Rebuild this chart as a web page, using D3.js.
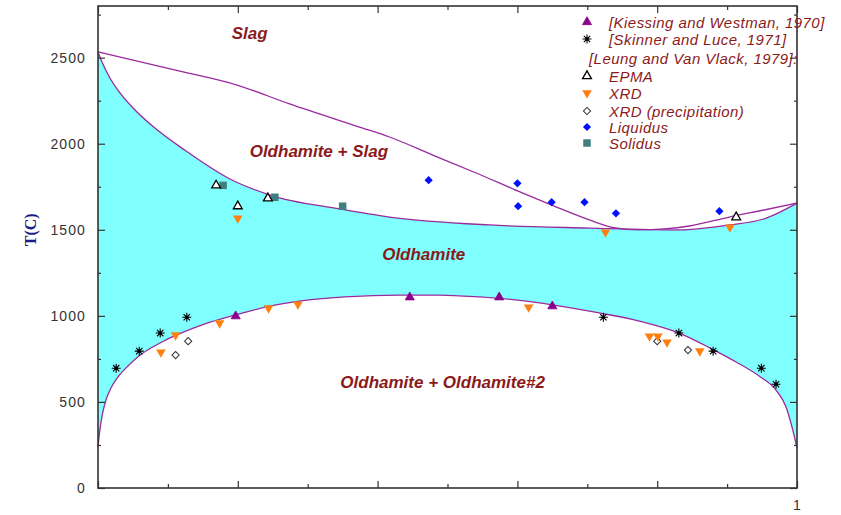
<!DOCTYPE html>
<html>
<head>
<meta charset="utf-8">
<script src="https://cdn.jsdelivr.net/npm/d3@7"></script>
<style>
  html, body { margin: 0; padding: 0; background: #ffffff; }
  svg { display: block; }
</style>
</head>
<body>
<svg id="chart" width="841" height="515"></svg>
<script>
// Phase boundaries (x = mole fraction, T in °C)
const liquidusLine = [[0,2533],[0.117,2422],[0.199,2341],[0.274,2231],[0.374,2097],[0.417,2039],[0.479,1934],[0.541,1830],[0.607,1714],[0.656,1632],[0.703,1557],[0.734,1516],[0.774,1499],[0.81,1505],[0.846,1522],[0.903,1574],[0.953,1615],[1,1655]];
const solidusLine = [[0,2533],[0.0057,2475],[0.0171,2382],[0.0314,2295],[0.0529,2196],[0.0814,2091],[0.124,1963],[0.186,1801],[0.246,1702],[0.346,1621],[0.417,1574],[0.56,1528],[0.703,1510],[0.831,1499],[0.903,1528],[0.956,1568],[1,1655]];
const solvusLine = [[0,238],[0.0029,343],[0.0064,430],[0.0114,511],[0.0186,581],[0.0286,645],[0.0429,709],[0.0586,767],[0.0757,813],[0.0943,854],[0.1129,889],[0.1529,953],[0.1971,1005],[0.2457,1057],[0.2886,1086],[0.3529,1110],[0.4314,1121],[0.4886,1121],[0.5457,1110],[0.6129,1086],[0.67,1051],[0.7171,1017],[0.7743,970],[0.8314,900],[0.8786,807],[0.9129,732],[0.9457,651],[0.97,569],[0.9843,471],[0.9929,354],[1,232]];

// Experimental data
const kiessing = [[0.197,998],[0.446,1108],[0.574,1108],[0.65,1056]];
const skinner = [[0.026,696],[0.059,795],[0.089,900],[0.127,992],[0.723,992],[0.831,900],[0.88,795],[0.949,696],[0.97,603]];
const epma = [[0.169,1758],[0.2,1637],[0.243,1683],[0.913,1573]];
const xrd = [[0.2,1567],[0.09,789],[0.111,888],[0.174,958],[0.244,1045],[0.286,1068],[0.616,1050],[0.726,1486],[0.904,1515],[0.789,882],[0.801,882],[0.814,847],[0.861,795]];
const xrdPrecip = [[0.111,772],[0.129,853],[0.8,853],[0.844,801]];
const liquidusPts = [[0.473,1788],[0.6,1770],[0.601,1637],[0.649,1660],[0.696,1660],[0.741,1596],[0.889,1608]];
const solidusPts = [[0.179,1758],[0.253,1689],[0.35,1637]];

// Axes
const xTicks = [0,0.1,0.2,0.3,0.4,0.5,0.6,0.7,0.8,0.9,1];
const xTickLabels = {1: "1"};
const yMajorTicks = [0,500,1000,1500,2000,2500];
const yMinorTicks = [250,750,1250,1750,2250,2750];

// Region names
const regionLabels = [
  {text: "Slag", x: 0.217, t: 2643},
  {text: "Oldhamite + Slag", x: 0.316, t: 1952},
  {text: "Oldhamite", x: 0.466, t: 1359},
  {text: "Oldhamite + Oldhamite#2", x: 0.493, t: 610}
];

// Legend entries
const legendItems = [
  {label: "[Kiessing and Westman, 1970]", type: "kiessing"},
  {label: "[Skinner and Luce, 1971]", type: "skinner"},
  {label: "[Leung and Van Vlack, 1979]:", type: null},
  {label: "EPMA", type: "epma"},
  {label: "XRD", type: "xrd"},
  {label: "XRD (precipitation)", type: "xrdp"},
  {label: "Liquidus", type: "liq"},
  {label: "Solidus", type: "sol"}
];

const svg = d3.select("#chart");
const plotL = 98, plotR = 797, plotT = 6, plotB = 488;
const x = d3.scaleLinear().domain([0,1]).range([plotL,plotR]);
const y = d3.scaleLinear().domain([0,2800]).range([plotB,plotT]);

const lineColor = "#9a2a9e";
const textRed = "#8b1a1a";

// Single-phase field: fill under solidus, then clear under solvus
const areaUnder = d3.area().x(d => x(d[0])).y0(plotB).y1(d => y(d[1])).curve(d3.curveMonotoneX);
svg.append("path").attr("d", areaUnder(solidusLine)).attr("fill", "#80ffff");
svg.append("path").attr("d", areaUnder(solvusLine)).attr("fill", "#ffffff");

const line = d3.line().x(d => x(d[0])).y(d => y(d[1])).curve(d3.curveMonotoneX);
[liquidusLine, solidusLine, solvusLine].forEach(c => {
  svg.append("path").attr("d", line(c)).attr("fill", "none")
    .attr("stroke", lineColor).attr("stroke-width", 1.3);
});

// Frame and ticks
const frame = svg.append("g");
const axColor = "#333333";
const tickFont = "Liberation Sans, Arial, sans-serif";

function styleAxis(g) {
  g.select(".domain").remove();
  g.selectAll(".tick line").attr("stroke", axColor).attr("stroke-width", 1.2);
  g.selectAll(".tick text").attr("fill", "#333").style("font-family", tickFont)
    .style("font-size", "14px").style("letter-spacing", "1.1px");
}

frame.append("g").attr("transform", `translate(${plotL},0)`)
  .call(d3.axisLeft(y).tickValues(yMajorTicks).tickSize(-7).tickPadding(12).tickFormat(d3.format("d")))
  .call(styleAxis);
frame.append("g").attr("transform", `translate(${plotL},0)`)
  .call(d3.axisLeft(y).tickValues(yMinorTicks).tickSize(-3).tickFormat(""))
  .call(styleAxis);
frame.append("g").attr("transform", `translate(${plotR},0)`)
  .call(d3.axisRight(y).tickValues(yMajorTicks).tickSize(-7).tickFormat(""))
  .call(styleAxis);
frame.append("g").attr("transform", `translate(${plotR},0)`)
  .call(d3.axisRight(y).tickValues(yMinorTicks).tickSize(-3).tickFormat(""))
  .call(styleAxis);

const xMajor = xTicks.filter((d,i) => i % 2 === 0);
const xMinor = xTicks.filter((d,i) => i % 2 === 1);
frame.append("g").attr("transform", `translate(0,${plotB})`)
  .call(d3.axisBottom(x).tickValues(xMajor).tickSize(-7).tickPadding(12).tickFormat(d => xTickLabels[d] || ""))
  .call(styleAxis);
frame.append("g").attr("transform", `translate(0,${plotB})`)
  .call(d3.axisBottom(x).tickValues(xMinor).tickSize(-4).tickFormat(""))
  .call(styleAxis);
frame.append("g").attr("transform", `translate(0,${plotT})`)
  .call(d3.axisTop(x).tickValues(xMajor).tickSize(-7).tickFormat(""))
  .call(styleAxis);
frame.append("g").attr("transform", `translate(0,${plotT})`)
  .call(d3.axisTop(x).tickValues(xMinor).tickSize(-4).tickFormat(""))
  .call(styleAxis);

frame.append("rect").attr("x", plotL).attr("y", plotT).attr("width", plotR - plotL).attr("height", plotB - plotT)
  .attr("fill", "none").attr("stroke", axColor).attr("stroke-width", 1.6);

// Y-axis title
svg.append("text")
  .attr("transform", `translate(30,${y(1500)}) rotate(-90)`)
  .attr("text-anchor", "middle").attr("dominant-baseline", "central")
  .style("font-family", "Liberation Serif, Times New Roman, serif")
  .style("font-weight", "bold").style("font-size", "16px")
  .attr("fill", "#1c1c8a").text("T(C)");

// Marker drawing
const sym = (type, size) => d3.symbol().type(type).size(size)();
function drawMarker(g, type, cx, cy) {
  switch (type) {
    case "kiessing":
      g.append("path").attr("d", sym(d3.symbolTriangle, 36)).attr("transform", `translate(${cx},${cy})`)
        .attr("fill", "#8b008b").attr("stroke", "#8b008b").attr("stroke-width", 0.8);
      break;
    case "skinner": {
      const r = 4.5;
      let p = "";
      [0,45,90,135].forEach(a => {
        const rad = a * Math.PI / 180, dx = r * Math.cos(rad), dy = r * Math.sin(rad);
        p += `M${cx-dx},${cy-dy}L${cx+dx},${cy+dy}`;
      });
      g.append("path").attr("d", p).attr("stroke", "#000").attr("stroke-width", 1.1).attr("fill", "none");
      g.append("circle").attr("cx", cx).attr("cy", cy).attr("r", 1.8).attr("fill", "#000");
      break;
    }
    case "epma":
      g.append("path").attr("d", sym(d3.symbolTriangle, 34)).attr("transform", `translate(${cx},${cy})`)
        .attr("fill", "#fff").attr("stroke", "#000").attr("stroke-width", 1.3);
      break;
    case "xrd":
      g.append("path").attr("d", sym(d3.symbolTriangle, 40)).attr("transform", `translate(${cx},${cy}) rotate(180)`)
        .attr("fill", "#ff8010");
      break;
    case "xrdp":
      g.append("path").attr("d", sym(d3.symbolSquare, 26)).attr("transform", `translate(${cx},${cy}) rotate(45)`)
        .attr("fill", "#fff").attr("stroke", "#333").attr("stroke-width", 1);
      break;
    case "liq":
      g.append("path").attr("d", sym(d3.symbolSquare, 34)).attr("transform", `translate(${cx},${cy}) rotate(45)`)
        .attr("fill", "#0010ff");
      break;
    case "sol":
      g.append("path").attr("d", sym(d3.symbolSquare, 56)).attr("transform", `translate(${cx},${cy})`)
        .attr("fill", "#3f7f7f");
      break;
  }
}

const marks = svg.append("g");
const seriesOrder = [
  ["sol", solidusPts], ["liq", liquidusPts], ["xrdp", xrdPrecip], ["xrd", xrd],
  ["epma", epma], ["skinner", skinner], ["kiessing", kiessing]
];
seriesOrder.forEach(([type, pts]) => pts.forEach(d => drawMarker(marks, type, x(d[0]), y(d[1]))));

// Region names
svg.append("g").selectAll("text").data(regionLabels).join("text")
  .attr("x", d => x(d.x)).attr("y", d => y(d.t))
  .attr("text-anchor", "middle").attr("dominant-baseline", "central")
  .style("font-family", "Liberation Sans, Arial, sans-serif")
  .style("font-weight", "bold").style("font-style", "italic").style("font-size", "17px")
  .attr("fill", textRed).text(d => d.text);

// Legend
const legendY = [22, 39, 58, 76, 93, 111, 127, 143];
const lg = svg.append("g");
legendItems.forEach((it, i) => {
  const cy = legendY[i];
  if (it.type) drawMarker(lg, it.type, 587, cy);
  lg.append("text").attr("x", it.type ? 609 : 589).attr("y", cy)
    .attr("dominant-baseline", "central")
    .style("font-family", "Liberation Sans, Arial, sans-serif")
    .style("font-style", "italic").style("font-size", "15px").style("letter-spacing", "0.45px")
    .attr("fill", textRed).text(it.label);
});
</script>
</body>
</html>
